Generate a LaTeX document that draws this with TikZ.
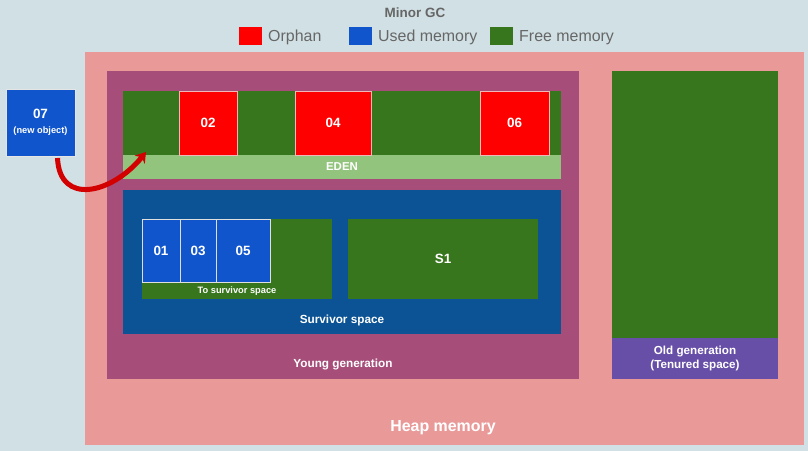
\documentclass[tikz,border=0pt]{standalone}
\usepackage{fontspec}
\setmainfont{Liberation Sans}
\usetikzlibrary{arrows.meta,positioning}
\definecolor{gcbg}{RGB}{209,224,228}
\definecolor{gcgray}{RGB}{102,102,102}
\definecolor{orphan}{RGB}{255,0,0}
\definecolor{used}{RGB}{17,85,204}
\definecolor{free}{RGB}{56,118,29}
\definecolor{heapc}{RGB}{234,153,153}
\definecolor{youngc}{RGB}{166,77,121}
\definecolor{edenc}{RGB}{147,196,125}
\definecolor{survc}{RGB}{11,83,148}
\definecolor{oldc}{RGB}{103,78,167}
\definecolor{moverd}{RGB}{210,0,0}
\newcommand{\fsz}[1]{\fontsize{#1}{#1}\selectfont}
\tikzset{
  area/.style={anchor=north west, inner sep=0pt, outer sep=0pt},
  blk/.style={area, line width=0.8bp, text=white, font=\bfseries\fsz{13.5}},
  rblk/.style={blk, fill=orphan, draw=heapc!70!white},
  ublk/.style={blk, fill=used, draw=white!75!gray},
  lbl/.style={text=white, font=\bfseries\fsz{11.8}},
  legbox/.style={area, minimum width=23bp, minimum height=18bp},
  legtxt/.style={text=gcgray, font=\fsz{16}, inner sep=0pt, text height=11.5bp, text depth=0pt},
  movearr/.style={-{Stealth[length=10bp, width=13bp]}, moverd, line width=5bp},
}

\begin{document}
\begin{tikzpicture}[x=1bp, y=-1bp]
  \fill[gcbg] (0,0) rectangle (808,451);
  \useasboundingbox (0,0) rectangle (808,451);
  % title and legend
  \node[text=gcgray, font=\bfseries\fsz{13.5}] (title) at (415,13) {Minor GC};
  \node[legbox, fill=orphan] (lorph) at (239,27) {};
  \node[legtxt, right=6bp of lorph] (torph) {Orphan};
  \node[legbox, fill=used] (lused) at (349,27) {};
  \node[legtxt, right=6bp of lused] (tused) {Used memory};
  \node[legbox, fill=free] (lfree) at (490,27) {};
  \node[legtxt, right=6bp of lfree] (tfree) {Free memory};
  % heap
  \node[area, fill=heapc, minimum width=719bp, minimum height=393bp] (heap) at (85,52) {};
  \node[lbl, font=\bfseries\fsz{16}] (theap) at (443,428) {Heap memory};
  % young generation
  \node[area, fill=youngc, minimum width=472bp, minimum height=308bp] (young) at (107,71) {};
  \node[lbl] (tyoung) at (343,364) {Young generation};
  % eden
  \node[area, fill=free, minimum width=438bp, minimum height=64bp] (eden) at (123,91) {};
  \node[area, fill=edenc, minimum width=438bp, minimum height=24bp, lbl, font=\bfseries\fsz{11.5}] (edenbar) at (123,155) {EDEN};
  \node[rblk, minimum width=58bp, minimum height=64bp] (o2) at (179,91) {02};
  \node[rblk, minimum width=76bp, minimum height=64bp] (o4) at (295,91) {04};
  \node[rblk, minimum width=69bp, minimum height=64bp] (o6) at (480,91) {06};
  % survivor
  \node[area, fill=survc, minimum width=438bp, minimum height=144bp] (surv) at (123,190) {};
  \node[lbl] (tsurv) at (342,320) {Survivor space};
  \node[area, fill=free, minimum width=190bp, minimum height=80bp] (s0) at (142,219) {};
  \node[lbl, font=\bfseries\fsz{9.3}] (ts0) at (237,291) {To survivor space};
  \node[ublk, minimum width=38bp, minimum height=63bp] (u1) at (142,219) {01};
  \node[ublk, minimum width=36bp, minimum height=63bp] (u3) at (180,219) {03};
  \node[ublk, minimum width=54bp, minimum height=63bp] (u5) at (216,219) {05};
  \node[area, fill=free, minimum width=190bp, minimum height=80bp, lbl, font=\bfseries\fsz{13.5}] (s1) at (348,219) {S1};
  % old generation
  \node[area, fill=oldc, minimum width=166bp, minimum height=41bp, lbl, align=center, font=\bfseries\fontsize{11.7}{14}\selectfont] (oldbar) at (612,338) {Old generation\\(Tenured space)};
  \node[area, fill=free, minimum width=166bp, minimum height=267bp] (old) at (612,71) {};
  % new object
  \node[ublk, minimum width=69bp, minimum height=67bp, align=center, draw=white!80!gray] (o7) at (6,89) {07\\[2bp]{\fsz{9.3}(new object)}};
  \draw[movearr] ([xshift=17bp, yshift=-2bp]o7.south) .. controls +(2,48) and +(-34,42) .. ([xshift=23bp, yshift=3bp]edenbar.north west);
\end{tikzpicture}
\end{document}
